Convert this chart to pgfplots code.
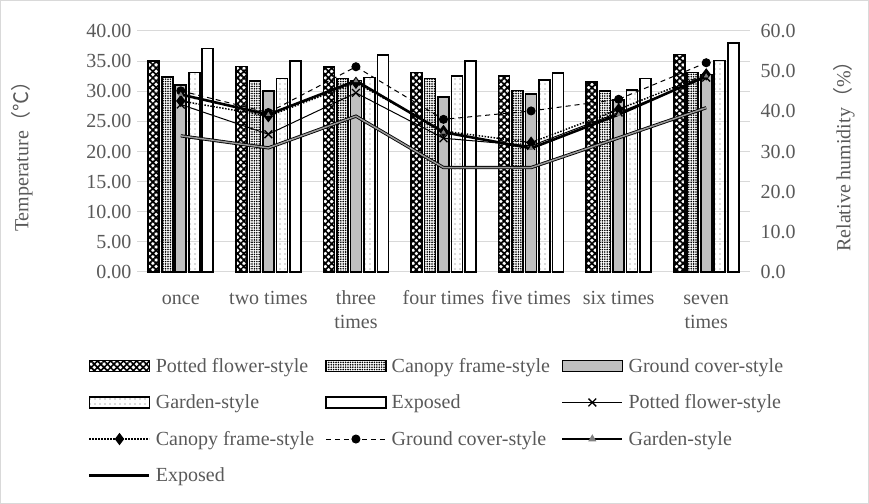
\documentclass[border=0pt]{standalone}
\usepackage{pgfplots}
\pgfplotsset{compat=1.18}
\usepackage{fontspec}
\setmainfont{Liberation Serif}
\newfontfamily\cjk{Noto Sans CJK SC}
\usetikzlibrary{patterns,patterns.meta}
\definecolor{txt}{RGB}{89,89,89}
\definecolor{gridc}{RGB}{217,217,217}
\definecolor{gfill}{RGB}{191,191,191}
\newcommand{\lbl}{\fontsize{20bp}{24bp}\selectfont}

% bar styles
\tikzset{
  potbar/.style={draw=black, line width=1.6bp, fill=white, pattern={Hatch[angle=45,distance=4.6bp,line width=1.7bp]}},
  canbar/.style={draw=black, line width=1.6bp, fill=white, pattern={Dots[distance=2.4bp,radius=0.9bp]}},
  grdbar/.style={draw=black, line width=1.6bp, fill=gfill},
  garbar/.style={draw=black, line width=1.6bp, fill=white, pattern={Dots[distance=5bp,radius=0.55bp]}, pattern color=black!60},
  expbar/.style={draw=black, line width=1.6bp, fill=white},
}

\pgfplotstableread{
x pot  can  grd  gar  exp
0 35.0 32.4 31.0 33.1 37.1
1 34.1 31.7 30.0 32.1 35.0
2 34.0 32.1 31.8 32.3 36.0
3 33.1 32.1 29.0 32.5 35.0
4 32.5 30.1 29.5 31.9 33.0
5 31.5 30.0 28.5 30.2 32.1
6 36.1 33.1 32.8 35.1 38.0
}\temps

\pgfplotstableread{
x pot  can  grd  gar  exp
0 41.7 42.6 45.1 44.2 33.9
1 34.3 38.8 39.7 39.2 30.9
2 44.6 47.1 51.1 47.6 38.8
3 33.3 35.1 38.0 34.8 26.0
4 31.4 32.2 40.1 30.8 26.0
5 39.7 40.5 43.0 39.2 33.4
6 48.4 49.2 52.1 48.8 40.9
}\humid

\begin{document}
\begin{tikzpicture}
\draw[gridc, line width=1bp] (0.5bp,0.5bp) rectangle (868.5bp,503.5bp);
\useasboundingbox (0bp,0bp) rectangle (869bp,504bp);

% temperature bars, left axis
\begin{axis}[
  at={(137bp,232bp)}, anchor=south west,
  width=613bp, height=241bp, scale only axis,
  xmin=-0.5, xmax=6.5, ymin=0, ymax=40,
  axis y line*=left, axis x line*=bottom,
  y axis line style={draw=none},
  x axis line style={gridc, line width=1bp},
  major tick length=0pt,
  xtick={0,...,6},
  xticklabels={once,two times,{three\\times},four times,five times,six times,{seven\\times}},
  typeset ticklabels with strut,
  xticklabel style={align=center, text=txt, font=\lbl, yshift=-12bp},
  ytick={0,5,...,40},
  yticklabel={\pgfmathprintnumber[fixed,fixed zerofill,precision=2]{\tick}},
  yticklabel style={text=txt, font=\lbl, xshift=-2bp},
  /pgf/number format/assume math mode=true,
  ymajorgrids, grid style={gridc, line width=1bp},
  ylabel={Temperature{\cjk （℃）}},
  ylabel style={text=txt, font=\lbl},
  ylabel shift=47bp,
  ybar, bar width=11bp,
  clip=false,
]
\addplot[potbar, bar shift=-27bp] table[x=x,y=pot] {\temps};
\addplot[canbar, bar shift=-13.5bp] table[x=x,y=can] {\temps};
\addplot[grdbar, bar shift=0bp] table[x=x,y=grd] {\temps};
\addplot[garbar, bar shift=13.5bp] table[x=x,y=gar] {\temps};
\addplot[expbar, bar shift=27bp] table[x=x,y=exp] {\temps};
\end{axis}

% relative humidity lines, right axis
\begin{axis}[
  at={(137bp,232bp)}, anchor=south west,
  width=613bp, height=241bp, scale only axis,
  xmin=-0.5, xmax=6.5, ymin=0, ymax=60,
  axis y line*=right, axis x line=none,
  y axis line style={draw=none},
  major tick length=0pt,
  ytick={0,10,...,60},
  yticklabel={\pgfmathprintnumber[fixed,fixed zerofill,precision=1]{\tick}},
  yticklabel style={text=txt, font=\lbl, xshift=7bp},
  /pgf/number format/assume math mode=true,
  ylabel={Relative humidity{\cjk （}\%{\cjk ）}},
  ylabel style={text=txt, font=\lbl},
  ylabel shift=31bp,
  clip=false,
  legend columns=3,
  legend cell align=left,
  legend style={
    at={(-0.085,-0.34)}, anchor=north west,
    draw=none, fill=none, font=\lbl, text=txt,
    /tikz/every odd column/.append style={column sep=3bp},
    /tikz/every even column/.append style={column sep=9bp},
    row sep=17bp,
  },
  legend image code/.code={
    \draw[mark repeat=2,mark phase=2,#1] plot coordinates {(0bp,0bp) (30bp,0bp) (60bp,0bp)};
  },
]
\addlegendimage{legend image code/.code={\draw[potbar] (0bp,-5.5bp) rectangle (60bp,5.5bp);}}
\addlegendentry{Potted flower-style}
\addlegendimage{legend image code/.code={\draw[canbar] (0bp,-5.5bp) rectangle (60bp,5.5bp);}}
\addlegendentry{Canopy frame-style}
\addlegendimage{legend image code/.code={\draw[grdbar] (0bp,-5.5bp) rectangle (60bp,5.5bp);}}
\addlegendentry{Ground cover-style}
\addlegendimage{legend image code/.code={\draw[garbar] (0bp,-5.5bp) rectangle (60bp,5.5bp);}}
\addlegendentry{Garden-style}
\addlegendimage{legend image code/.code={\draw[expbar] (0bp,-5.5bp) rectangle (60bp,5.5bp);}}
\addlegendentry{Exposed}

\addplot[black, line width=1bp, mark=x, mark size=5.5bp, mark options={line width=1.3bp}]
  table[x=x,y=pot] {\humid};
\addlegendentry{Potted flower-style}
\addplot[black, line width=1.5bp, dash pattern=on 1.5bp off 1.5bp, mark=diamond*, mark size=5bp, mark options={solid}]
  table[x=x,y=can] {\humid};
\addlegendentry{Canopy frame-style}
\addplot[black, line width=1bp, dash pattern=on 5bp off 4bp, mark=*, mark size=4bp, mark options={solid}]
  table[x=x,y=grd] {\humid};
\addlegendentry{Ground cover-style}
\addplot[black, line width=2.6bp, mark=triangle*, mark size=2.2bp, mark options={fill=gray, draw=gray, line width=0.5bp},
  legend image code/.code={
    \draw[black, line width=2.6bp] (0bp,0bp) -- (60bp,0bp);
    \fill[gray] (30bp,0bp) +(90:2.2bp) -- +(210:2.2bp) -- +(330:2.2bp) -- cycle;}]
  table[x=x,y=gar] {\humid};
\addlegendentry{Garden-style}
% exposed: dark outline with a grey core
\addplot[black, line width=3.2bp, no marks,
  legend image code/.code={\draw[black, line width=2.8bp] (0bp,0bp) -- (60bp,0bp);}]
  table[x=x,y=exp] {\humid};
\addlegendentry{Exposed}
\addplot[gray!80, line width=1.5bp, no marks, forget plot]
  table[x=x,y=exp] {\humid};
\end{axis}
\end{tikzpicture}
\end{document}
